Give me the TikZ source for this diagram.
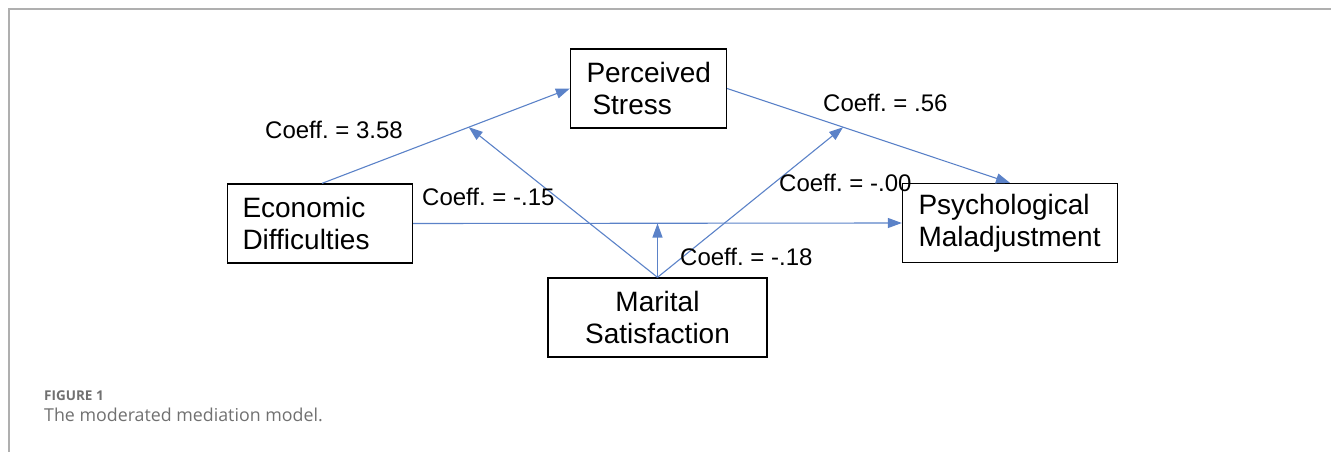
\documentclass[tikz,border=0pt]{standalone}
\usepackage{fontspec}
\setmainfont{Liberation Sans}
\newfontfamily\capfont{Open Sans}
\usetikzlibrary{arrows.meta,calc}
\definecolor{arrowblue}{RGB}{91,130,200}
\definecolor{framegray}{RGB}{175,175,175}
\definecolor{capgray}{RGB}{112,112,112}
\frenchspacing
\tikzset{
  box/.style={draw=black, line width=1.3pt, rectangle, inner ysep=0pt,
    minimum height=79pt, font=\fontsize{28}{32}\selectfont},
  conn/.style={draw=arrowblue, line width=1.1pt},
  arr/.style={conn, -{Triangle[length=14pt,width=10pt]}},
  coef/.style={inner sep=0pt, anchor=west, font=\fontsize{24}{28}\selectfont},
}
\begin{document}
\begin{tikzpicture}[x=1pt,y=-1pt]
\useasboundingbox (0,0) rectangle (1331,452);
% frame
\draw[framegray, line width=1.6pt] (9,452) -- (9,9) -- (1331,9);
% boxes
\node[box, inner xsep=16pt, text width=124pt, align=left] (PS) at (648.5,88.5) {Perceived\\\hspace*{6pt}Stress};
\node[box, inner xsep=15pt, text width=155pt, align=left] (ED) at (320,223.5) {Economic\\Difficulties};
\node[box, inner xsep=16pt, text width=183pt, align=left] (PM) at (1010,223) {Psychological\\Maladjustment};
\node[box, minimum width=219pt, align=center] (MS) at (657.5,317.5) {Marital\\Satisfaction};
% connectors
\coordinate (EDtop) at ($(ED.north)+(2,0)$);
\coordinate (PMtop) at (PM.north);
\draw[arr] (EDtop) -- (PS.west);
\draw[arr] (PS.east) -- (PMtop);
\draw[arr] (ED.east) -- (PM.west);
\coordinate (m1) at ($(EDtop)!0.592!(PS.west)$);
\coordinate (m2) at ($(PS.east)!0.41!(PMtop)$);
\coordinate (m3) at (MS.north |- ED.east);
\draw[arr] (MS.north) -- (m1);
\draw[arr] (MS.north) -- (m2);
\draw[arr] (MS.north) -- (m3);
% labels
\node[coef] (c1) at (265,130) {Coeff. = 3.58};
\node[coef] (c2) at (422,197) {Coeff. = -.15};
\node[coef] (c3) at (823,103) {Coeff. = .56};
\node[coef] (c4) at (779,183) {Coeff. = -.00};
\node[coef] (c5) at (680,257) {Coeff. = -.18};
% caption
\node[inner sep=0pt, anchor=base west, text=capgray, font=\capfont\bfseries\fontsize{13.5}{15}\selectfont] (fig) at (44,400) {FIGURE 1};
\node[inner sep=0pt, anchor=base west, text=capgray, font=\capfont\fontsize{17.8}{20}\selectfont] (cap) at (44,421) {The moderated mediation model.};
\end{tikzpicture}
\end{document}
